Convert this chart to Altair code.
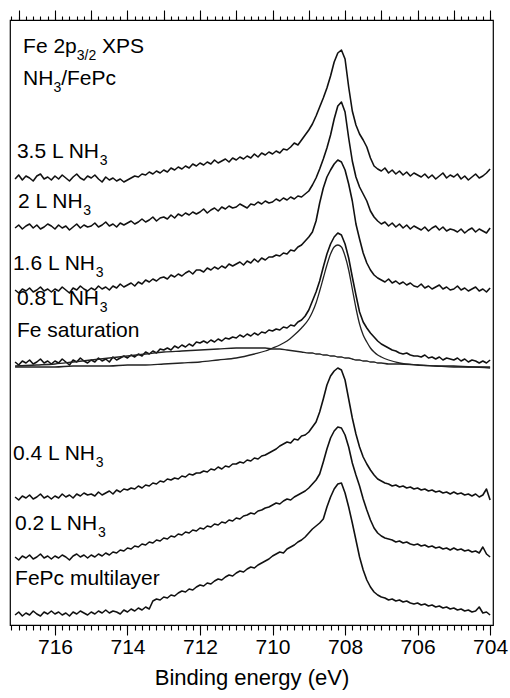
import altair as alt
import pandas as pd

FONT = "Liberation Sans"

# Binding-energy sampling of the spectra (eV), 717.1 -> 704.0
energy = [round(717.1 - 0.1 * i, 1) for i in range(132)]

# Fe 2p3/2 intensities (arbitrary units, curves stacked with offsets)
i_3p5L = [446, 450, 445, 449, 447, 444, 449, 451, 446, 448, 445,
          449, 446, 450, 447, 444, 448, 451, 447, 445, 449,
          447, 450, 446, 443, 448, 445, 447, 444, 446, 443,
          445, 447, 449, 448, 451, 450, 453, 451, 454, 452,
          455, 453, 457, 455, 458, 456, 459, 457, 461, 459,
          462, 460, 463, 461, 465, 462, 464, 466, 463, 467,
          465, 468, 466, 469, 467, 471, 468, 472, 470, 473,
          471, 474, 472, 476, 475, 478, 482, 480, 485, 490,
          495, 501, 509, 518, 527, 537, 549, 563, 572, 575,
          566, 538, 514, 500, 491, 485, 478, 467, 459, 456,
          454, 457, 452, 455, 451, 454, 450, 453, 449, 452,
          450, 448, 451, 447, 450, 446, 449, 452, 447, 450,
          448, 451, 446, 449, 445, 448, 451, 447, 449, 452, 456]

i_2L = [397, 400, 396, 399, 401, 397, 400, 396, 398, 401, 399,
        396, 400, 397, 399, 395, 398, 401, 397, 400, 398,
        399, 402, 398, 400, 403, 399, 401, 398, 402, 400,
        402, 404, 401, 403, 406, 403, 405, 408, 404, 407,
        408, 406, 410, 407, 411, 409, 412, 410, 413, 411,
        413, 416, 412, 415, 417, 414, 418, 416, 419, 417,
        418, 421, 419, 417, 421, 420, 423, 421, 424, 422,
        423, 426, 424, 427, 425, 428, 426, 429, 428, 431,
        434, 440, 447, 456, 466, 477, 490, 506, 519, 523,
        513, 487, 464, 448, 438, 431, 424, 414, 408, 404,
        401, 403, 399, 402, 398, 401, 397, 400, 396, 399,
        397, 395, 398, 394, 397, 399, 395, 398, 394, 396,
        395, 393, 396, 392, 395, 397, 393, 396, 394, 392, 397]

i_1p6L = [335, 332, 336, 334, 337, 333, 335, 338, 334, 336, 333,
          336, 334, 338, 335, 332, 337, 335, 339, 336, 334,
          337, 335, 339, 336, 338, 335, 339, 337, 341, 338,
          340, 342, 339, 343, 341, 345, 343, 346, 344, 347,
          348, 346, 350, 348, 351, 349, 352, 354, 351, 355,
          355, 353, 357, 355, 358, 356, 359, 357, 361, 359,
          361, 363, 360, 364, 362, 366, 363, 367, 365, 368,
          368, 370, 369, 372, 371, 375, 374, 378, 380, 384,
          388, 393, 404, 422, 437, 448, 455, 461, 465, 463,
          455, 441, 424, 401, 386, 372, 362, 355, 350, 347,
          345, 343, 346, 342, 344, 341, 343, 340, 342, 339,
          338, 341, 337, 339, 336, 338, 340, 336, 338, 335,
          336, 339, 335, 337, 334, 336, 338, 334, 336, 333, 337]

i_0p8L = [263, 260, 264, 262, 265, 261, 263, 266, 262, 264, 261,
          264, 262, 266, 263, 260, 265, 263, 267, 264, 262,
          265, 263, 267, 264, 266, 263, 268, 265, 267, 269,
          267, 270, 268, 271, 269, 273, 271, 274, 272, 276,
          275, 277, 275, 279, 277, 280, 278, 281, 279, 283,
          282, 284, 282, 285, 283, 286, 284, 287, 286, 288,
          287, 290, 288, 291, 289, 292, 290, 293, 292, 295,
          294, 296, 295, 298, 297, 300, 299, 303, 305, 309,
          315, 324, 333, 344, 358, 371, 381, 388, 392, 390,
          381, 367, 348, 330, 313, 303, 297, 292, 288, 284,
          281, 279, 277, 275, 274, 272, 271, 272, 270, 269,
          269, 268, 270, 267, 268, 266, 268, 265, 267, 266,
          265, 267, 264, 266, 263, 265, 264, 262, 264, 262, 265]

i_0p4L = [128, 125, 129, 127, 130, 126, 128, 131, 127, 129, 126,
          129, 127, 131, 128, 130, 127, 131, 129, 132, 130,
          131, 129, 133, 130, 132, 134, 131, 135, 133, 136,
          135, 137, 136, 139, 137, 140, 139, 142, 141, 144,
          143, 146, 145, 147, 146, 149, 148, 151, 150, 152,
          152, 154, 153, 156, 155, 158, 156, 159, 158, 161,
          161, 163, 162, 165, 164, 167, 166, 169, 170, 172,
          174, 176, 179, 181, 183, 182, 186, 185, 189, 190,
          193, 198, 203, 213, 226, 240, 249, 254, 257, 255,
          245, 226, 207, 191, 178, 168, 161, 155, 150, 146,
          144, 142, 141, 139, 140, 138, 139, 137, 138, 136,
          137, 135, 136, 134, 135, 133, 134, 132, 133, 131,
          133, 131, 132, 130, 131, 129, 131, 128, 130, 136, 125]

i_0p2L = [68, 65, 69, 67, 70, 66, 68, 71, 67, 69, 66,
          69, 67, 70, 68, 65, 69, 71, 68, 70, 67,
          70, 68, 71, 69, 72, 70, 73, 72, 75, 74,
          77, 76, 79, 78, 81, 80, 83, 82, 85, 84,
          87, 86, 89, 88, 91, 90, 93, 92, 95, 94,
          97, 96, 99, 98, 101, 100, 103, 102, 105, 104,
          107, 106, 109, 110, 112, 111, 114, 115, 117, 118,
          120, 122, 121, 124, 126, 125, 128, 130, 132, 134,
          137, 141, 145, 151, 163, 176, 187, 194, 198, 197,
          190, 178, 162, 150, 139, 126, 115, 105, 97, 92,
          89, 87, 86, 85, 83, 84, 82, 83, 81, 80,
          81, 79, 80, 78, 79, 77, 78, 76, 77, 75,
          77, 75, 76, 74, 75, 73, 74, 72, 78, 71, 68]

i_multilayer = [10, 13, 9, 12, 10, 14, 11, 9, 13, 11, 14,
                11, 13, 10, 12, 9, 13, 11, 14, 12, 10,
                13, 11, 14, 12, 15, 12, 14, 13, 11, 15,
                13, 16, 14, 17, 15, 18, 16, 24, 26, 25,
                28, 27, 30, 29, 32, 34, 33, 36, 35, 38,
                40, 39, 42, 41, 44, 46, 45, 48, 50, 49,
                52, 54, 53, 56, 58, 57, 60, 62, 64, 66,
                69, 71, 73, 72, 76, 78, 80, 83, 85, 88,
                92, 96, 99, 102, 106, 118, 128, 136, 141, 142,
                132, 118, 102, 85, 68, 55, 45, 38, 33, 30,
                28, 27, 25, 26, 24, 25, 23, 24, 22, 21,
                22, 20, 21, 19, 20, 18, 19, 17, 18, 16,
                17, 15, 16, 14, 15, 13, 14, 18, 12, 13, 10]

series_names = ["3.5 L", "2 L", "1.6 L", "0.8 L", "0.4 L", "0.2 L", "multilayer"]
series_values = [i_3p5L, i_2L, i_1p6L, i_0p8L, i_0p4L, i_0p2L, i_multilayer]
for vals in series_values:
    assert len(vals) == len(energy), len(vals)

# Fit components of the 0.8 L spectrum (main Fe peak and broad saturation satellite)
fit_energy = [717.1, 716.5, 716.0, 715.5, 715.0, 714.5, 714.0, 713.5, 713.0, 712.5,
              712.0, 711.5, 711.0, 710.5, 710.2, 710.0, 709.8, 709.6, 709.4, 709.2,
              709.0, 708.9, 708.8, 708.7, 708.6, 708.5, 708.4, 708.3, 708.2, 708.1,
              708.0, 707.9, 707.8, 707.7, 707.6, 707.5, 707.4, 707.3, 707.2, 707.1,
              707.0, 706.8, 706.5, 706.0, 705.5, 705.0, 704.5, 704.0]
fit_main = [258, 258, 258, 259, 259, 259, 260, 260, 261, 262,
            263, 265, 267, 271, 274, 277, 280, 284, 290, 297,
            306, 313, 322, 334, 347, 360, 371, 378, 380, 378,
            369, 355, 336, 317, 301, 290, 283, 277, 273, 270,
            268, 265, 262, 260, 259, 258, 258, 257]
fit_sat = [259, 260, 261, 263, 265, 267, 269, 271, 273, 274,
           275, 276, 277, 277, 277, 276, 276, 275, 274, 273,
           272, 272, 271, 271, 270, 270, 269, 269, 268, 268,
           267, 267, 266, 265, 265, 264, 264, 263, 263, 262,
           262, 261, 261, 260, 259, 259, 258, 258]
assert len(fit_main) == len(fit_energy) and len(fit_sat) == len(fit_energy)

# Annotations
label_main = ["Fe 2p", "NH", "3.5 L NH", "2 L NH", "1.6 L NH", "0.8 L NH",
              "Fe saturation", "0.4 L NH", "0.2 L NH", "FePc multilayer"]
label_sub = ["3/2", "3", "3", "3", "3", "3", "", "3", "3", ""]
label_tail = [" XPS", "/FePc", "", "", "", "", "", "", "", ""]
label_x = [716.88, 716.88, 717.05, 717.02, 717.16, 717.05, 717.05, 717.16, 717.10, 717.10]
label_y = [572, 540, 467, 417, 355, 320, 288, 165, 95, 40]

x_ticks_major = [716, 714, 712, 710, 708, 706, 704]
x_ticks_top = [717, 716, 715, 714, 713, 712, 711, 710, 709, 708, 707, 706, 705, 704]
x_ticks_minor = [round(704.0 + 0.2 * k, 1) for k in range(67)]

# ---- layout helpers ----
X_DOMAIN = [717.24, 703.92]
W, H = 483, 605
PX_PER_EV = W / (X_DOMAIN[0] - X_DOMAIN[1])
MAIN_FS, SUB_FS = 21, 14
ARIAL = {' ': 278, '.': 278, '/': 278, 'L': 556, 'N': 722, 'H': 722, 'F': 611,
         'e': 556, 'p': 556, 'X': 667, 'P': 667, 'S': 667, 'c': 500, 's': 500,
         'a': 556, 't': 278, 'u': 556, 'r': 333, 'i': 222, 'o': 556, 'n': 556,
         'm': 833, 'l': 222, 'y': 500}


def tw(s, size):
    return sum(ARIAL.get(ch, 556) for ch in s) * size / 1000.0


rows = []
for m, s, t, x0, y0 in zip(label_main, label_sub, label_tail, label_x, label_y):
    w_main = tw(m, MAIN_FS)
    w_sub = tw(s, SUB_FS)
    lead = len(t) - len(t.lstrip())
    w_lead = tw(t[:lead], MAIN_FS)
    rows.append({
        "main": m, "sub": s, "tail": t.strip(), "y": y0,
        "x_main": x0,
        "x_sub": x0 - w_main / PX_PER_EV,
        "x_tail": x0 - (w_main + w_sub + w_lead) / PX_PER_EV,
    })
lab_df = pd.DataFrame(rows)

spec_df = pd.DataFrame([
    {"series": n, "energy": e, "intensity": v}
    for n, vals in zip(series_names, series_values)
    for e, v in zip(energy, vals)
])
fit_df = pd.concat([
    pd.DataFrame({"component": "main", "energy": fit_energy, "intensity": fit_main}),
    pd.DataFrame({"component": "satellite", "energy": fit_energy, "intensity": fit_sat}),
])

xs = alt.Scale(domain=X_DOMAIN, nice=False, zero=False)
ys = alt.Scale(domain=[0, H], nice=False, zero=False)

common_axis = dict(domain=False, grid=False, tickColor="black", tickWidth=1.1)

ax_bottom = alt.Axis(orient="bottom", values=x_ticks_major, tickSize=10, format="d",
                     labelFont=FONT, labelFontSize=21, labelColor="black", labelPadding=1,
                     labelFlush=False, labelOverlap=False,
                     title="Binding energy (eV)", titleFont=FONT, titleFontSize=22,
                     titleFontWeight="normal", titleColor="black", titlePadding=10,
                     **common_axis)
ax_bottom_minor = alt.Axis(orient="bottom", values=x_ticks_minor, tickSize=5, labels=False,
                           title=None, **common_axis)
ax_top = alt.Axis(orient="top", values=x_ticks_top, tickSize=10, labels=False,
                  title=None, **common_axis)
ax_top_minor = alt.Axis(orient="top", values=x_ticks_minor, tickSize=4, labels=False,
                        title=None, **common_axis)

spectra = alt.Chart(spec_df).mark_line(color="#111111", strokeWidth=1.6,
                                       strokeJoin="round").encode(
    x=alt.X("energy:Q", scale=xs, axis=ax_bottom),
    y=alt.Y("intensity:Q", scale=ys, axis=None),
    detail="series:N",
    order="energy:Q",
)

fits = alt.Chart(fit_df).mark_line(color="#222222", strokeWidth=1.3, interpolate="monotone").encode(
    x=alt.X("energy:Q", scale=xs, axis=ax_bottom_minor),
    y=alt.Y("intensity:Q", scale=ys, axis=None),
    detail="component:N",
)

txt_main = alt.Chart(lab_df).mark_text(align="left", baseline="alphabetic", font=FONT,
                                       fontSize=MAIN_FS, color="black").encode(
    x=alt.X("x_main:Q", scale=xs, axis=ax_top),
    y=alt.Y("y:Q", scale=ys, axis=None),
    text="main:N",
)
txt_sub = alt.Chart(lab_df).mark_text(align="left", baseline="alphabetic", font=FONT,
                                      fontSize=SUB_FS, dy=7, color="black").encode(
    x=alt.X("x_sub:Q", scale=xs, axis=ax_top_minor),
    y=alt.Y("y:Q", scale=ys, axis=None),
    text="sub:N",
)
txt_tail = alt.Chart(lab_df).mark_text(align="left", baseline="alphabetic", font=FONT,
                                       fontSize=MAIN_FS, color="black").encode(
    x=alt.X("x_tail:Q", scale=xs, axis=None),
    y=alt.Y("y:Q", scale=ys, axis=None),
    text="tail:N",
)

chart = alt.layer(spectra, fits, txt_main, txt_sub, txt_tail).resolve_axis(
    x="independent"
).properties(
    width=W, height=H, autosize="none",
    padding={"left": 10, "top": 20, "right": 17, "bottom": 73},
    background="white",
).configure_view(stroke="black", strokeWidth=1.2)

chart.save("out.html", embed_options={"renderer": "svg", "actions": False})
